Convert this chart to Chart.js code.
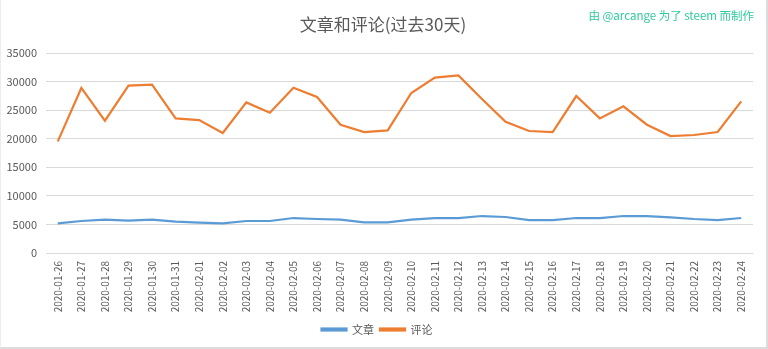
<!DOCTYPE html>
<html>
<head>
<meta charset="utf-8">
<script src="https://cdn.jsdelivr.net/npm/chart.js@4"></script>
<style>
  body { margin: 0; background: #fff; }
  #wrap {
    position: relative; width: 768px; height: 349px; box-sizing: border-box;
    border-left: 1px solid #ececec; border-right: 2px solid #dcdcdc; border-bottom: 2px solid #dcdcdc;
  }
  canvas { display: block; }
</style>
</head>
<body>
<div id="wrap"><canvas id="chart" width="765" height="347"></canvas></div>
<script>
var days = ["2020-01-26", "2020-01-27", "2020-01-28", "2020-01-29", "2020-01-30", "2020-01-31",
  "2020-02-01", "2020-02-02", "2020-02-03", "2020-02-04", "2020-02-05", "2020-02-06", "2020-02-07",
  "2020-02-08", "2020-02-09", "2020-02-10", "2020-02-11", "2020-02-12", "2020-02-13", "2020-02-14",
  "2020-02-15", "2020-02-16", "2020-02-17", "2020-02-18", "2020-02-19", "2020-02-20", "2020-02-21",
  "2020-02-22", "2020-02-23", "2020-02-24"];

var posts = [5180, 5600, 5830, 5650, 5830, 5480, 5300, 5180, 5600, 5600, 6120, 5950, 5830, 5360, 5360,
  5830, 6120, 6120, 6470, 6300, 5770, 5770, 6120, 6120, 6470, 6470, 6240, 5950, 5770, 6120];

var comments = [19530, 28880, 23150, 29280, 29450, 23560, 23270, 21000, 26360, 24550, 28930, 27300, 22450, 21170, 21460,
  28000, 30680, 31080, 26950, 22980, 21350, 21170, 27470, 23560, 25660, 22450, 20470, 20650, 21170, 26530];

var seriesNames = ["文章", "评论"];
var yTicks = [0, 5000, 10000, 15000, 20000, 25000, 30000, 35000];

var titleText = "文章和评论(过去30天)";
var creditText = "由 @arcange 为了 steem 而制作";

var colors = ["#5B9BD5", "#ED7D31"];
var fontFamily = "'Noto Sans CJK SC', 'Noto Sans', sans-serif";
var grey = "#595959";

// title centred on the whole frame, plus the credit line top right
var headerPlugin = {
  id: "header",
  afterDraw: function (chart) {
    var ctx = chart.ctx;
    ctx.save();
    ctx.textBaseline = "middle";
    ctx.font = "17px " + fontFamily;
    ctx.fillStyle = grey;
    ctx.textAlign = "center";
    ctx.fillText(titleText, 382, 25);
    ctx.font = "11.5px " + fontFamily;
    ctx.fillStyle = "#2ecb9c";
    ctx.textAlign = "right";
    ctx.fillText(creditText, 753, 16);
    ctx.restore();
  }
};

var config = {
  type: "line",
  data: {
    labels: days,
    datasets: [
      { label: seriesNames[0], data: posts, borderColor: colors[0], backgroundColor: colors[0] },
      { label: seriesNames[1], data: comments, borderColor: colors[1], backgroundColor: colors[1] }
    ]
  },
  options: {
    responsive: false,
    animation: false,
    layout: { padding: { left: 0, right: 13, top: 53, bottom: 2 } },
    elements: {
      line: { borderWidth: 2.2, tension: 0 },
      point: { radius: 0 }
    },
    scales: {
      x: {
        offset: true,
        grid: { display: false, drawTicks: false },
        border: { display: false },
        afterFit: function (scale) { scale.height = 65; },
        ticks: {
          autoSkip: false, maxRotation: 90, minRotation: 90, padding: 8,
          color: grey, font: { family: fontFamily, size: 10 }
        }
      },
      y: {
        min: 0, max: 35000,
        afterBuildTicks: function (scale) {
          scale.ticks = yTicks.map(function (v) { return { value: v }; });
        },
        afterFit: function (scale) { scale.width = 45; },
        grid: { color: "#D9D9D9", lineWidth: 1, drawTicks: false },
        border: { display: false },
        ticks: {
          padding: 9, color: grey, font: { family: fontFamily, size: 11 },
          callback: function (v) { return String(v); }
        }
      }
    },
    plugins: {
      title: { display: false },
      legend: {
        position: "bottom",
        labels: {
          boxWidth: 25, boxHeight: 2, padding: 6,
          color: grey, font: { family: fontFamily, size: 11 }
        }
      },
      tooltip: { enabled: false }
    }
  },
  plugins: [headerPlugin]
};

var lineChart = new Chart(document.getElementById("chart"), config);
</script>
</body>
</html>
